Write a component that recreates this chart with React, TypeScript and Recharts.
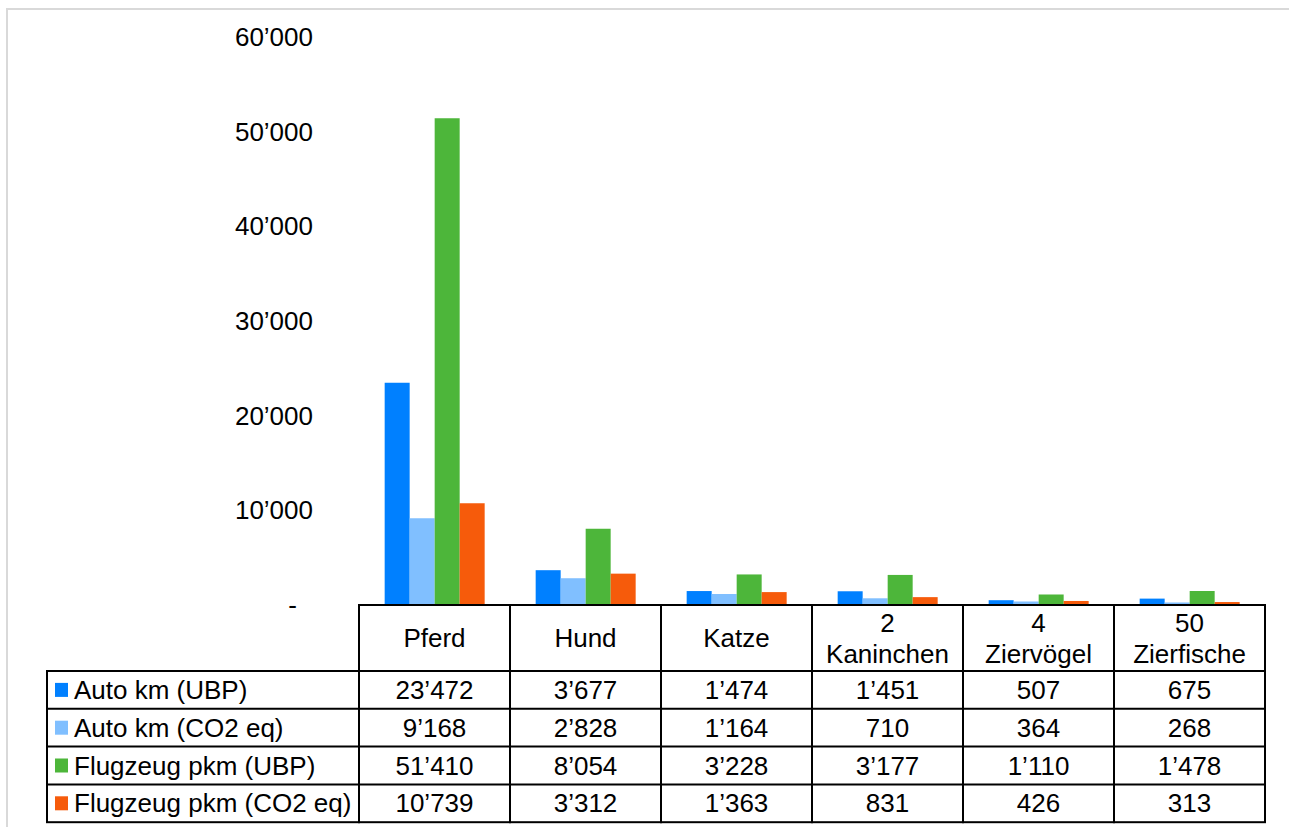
import { Bar, BarChart, XAxis, YAxis } from "recharts";

const categories = ["Pferd", "Hund", "Katze", "2\nKaninchen", "4\nZiervögel", "50\nZierfische"];
const autoUbp = [23472, 3677, 1474, 1451, 507, 675];
const autoCo2 = [9168, 2828, 1164, 710, 364, 268];
const flugUbp = [51410, 8054, 3228, 3177, 1110, 1478];
const flugCo2 = [10739, 3312, 1363, 831, 426, 313];
const seriesNames = ["Auto km (UBP)", "Auto km (CO2 eq)", "Flugzeug pkm (UBP)", "Flugzeug pkm (CO2 eq)"];
const yTicks = [0, 10000, 20000, 30000, 40000, 50000, 60000];

const seriesKeys = ["autoUbp", "autoCo2", "flugUbp", "flugCo2"];
const seriesValues = [autoUbp, autoCo2, flugUbp, flugCo2];
const colors = ["#0080ff", "#80bfff", "#4db63a", "#f65b0b"];

const data = categories.map((name, i) => ({
  name,
  autoUbp: autoUbp[i],
  autoCo2: autoCo2[i],
  flugUbp: flugUbp[i],
  flugCo2: flugCo2[i],
}));

// layout
const W = 1289;
const H = 827;
const margin = { top: 37, right: 24, bottom: 0, left: 0 };
const yAxisW = 359;
const xAxisH = 222;
const colW = (W - yAxisW - margin.right) / categories.length;
const headerH = 66;
const rowH = 37.8;
const legendLeft = 47;
const fontSize = 26;

const font = '"Liberation Sans", Arial, sans-serif';
const fmt = (n: number) => String(n).replace(/\B(?=(\d{3})+(?!\d))/g, "\u2019");

const YTick = (props: any) => {
  const { x, y, payload } = props;
  const zero = payload.value === 0;
  return (
    <text
      x={zero ? x - 16 : x}
      y={y}
      textAnchor="end"
      dominantBaseline="central"
      fontSize={fontSize}
      fontFamily={font}
      fill="#000"
    >
      {zero ? "-" : fmt(payload.value)}
    </text>
  );
};

const TableTick = (props: any) => {
  const { x, y, payload } = props;
  const idx = categories.indexOf(payload.value);
  const left = x - colW / 2;
  const top = y;
  const bottom = top + headerH + rowH * 4;
  const lines = String(payload.value).split("\n");
  return (
    <g fontFamily={font} fontSize={fontSize} fill="#000">
      <rect x={left} y={top} width={colW} height={bottom - top} fill="none" stroke="#000" strokeWidth={2} />
      {[0, 1, 2, 3].map((r) => (
        <line key={r} x1={left} x2={left + colW} y1={top + headerH + r * rowH} y2={top + headerH + r * rowH} stroke="#000" strokeWidth={2} />
      ))}
      {lines.length === 1 ? (
        <text x={x} y={top + headerH / 2} textAnchor="middle" dominantBaseline="central">
          {lines[0]}
        </text>
      ) : (
        lines.map((l, k) => (
          <text key={k} x={x} y={top + 18 + k * 31} textAnchor="middle" dominantBaseline="central">
            {l}
          </text>
        ))
      )}
      {seriesValues.map((vals, r) => (
        <text key={r} x={x} y={top + headerH + r * rowH + rowH / 2} textAnchor="middle" dominantBaseline="central">
          {fmt(vals[idx])}
        </text>
      ))}
      {idx === 0 && (
        <g>
          <rect x={legendLeft} y={top + headerH} width={left - legendLeft} height={rowH * 4} fill="none" stroke="#000" strokeWidth={2} />
          {seriesNames.map((s, r) => {
            const cy = top + headerH + r * rowH + rowH / 2;
            return (
              <g key={s}>
                {r > 0 && (
                  <line x1={legendLeft} x2={left} y1={top + headerH + r * rowH} y2={top + headerH + r * rowH} stroke="#000" strokeWidth={2} />
                )}
                <rect x={55} y={cy - 7} width={13} height={14} fill={colors[r]} />
                <text x={74} y={cy} dominantBaseline="central">
                  {s}
                </text>
              </g>
            );
          })}
        </g>
      )}
    </g>
  );
};

const App = () => {
  return (
    <div style={{ position: "fixed", left: 0, top: 0, width: W, height: H, overflow: "hidden", background: "#fff" }}>
      <div style={{ position: "absolute", left: 6, top: 8, width: W, height: 2, background: "#d9d9d9" }} />
      <div style={{ position: "absolute", left: 6, top: 8, width: 2, height: H, background: "#d9d9d9" }} />
      <BarChart
        width={W}
        height={H}
        data={data}
        margin={margin}
        barCategoryGap="17%"
        barGap={0}
        style={{ position: "absolute", left: 0, top: 0 }}
      >
        <XAxis
          dataKey="name"
          height={xAxisH}
          axisLine={false}
          tickLine={false}
          tickSize={0}
          tickMargin={0}
          interval={0}
          tick={<TableTick />}
        />
        <YAxis
          width={yAxisW}
          domain={[0, 60000]}
          ticks={yTicks}
          axisLine={false}
          tickLine={false}
          tickSize={0}
          tickMargin={46}
          tick={<YTick />}
        />
        {seriesKeys.map((k, i) => (
          <Bar key={k} dataKey={k} name={seriesNames[i]} fill={colors[i]} isAnimationActive={false} />
        ))}
      </BarChart>
    </div>
  );
};

export default App;
